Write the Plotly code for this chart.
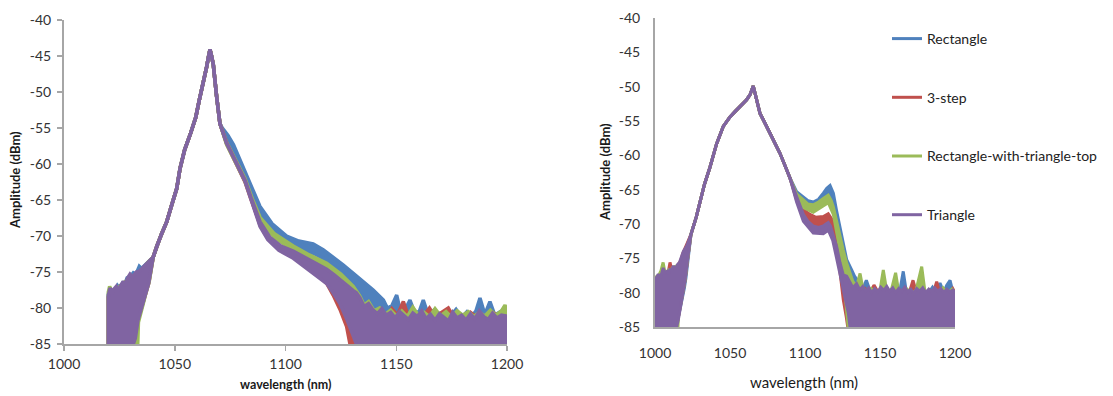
import plotly.graph_objects as go

# ---------------- series names / colours ----------------
SERIES = ["Rectangle", "3-step", "Rectangle-with-triangle-top", "Triangle"]
COLORS = ["#4F81BD", "#C0504D", "#9BBB59", "#8064A2"]
X_TICKS = [1000, 1050, 1100, 1150, 1200]
X_TICK_TEXT = ["1000", "1050", "1100", "1150", "1200"]
Y_TICKS = [-40, -45, -50, -55, -60, -65, -70, -75, -80, -85]
Y_TICK_TEXT = ["-40", "-45", "-50", "-55", "-60", "-65", "-70", "-75", "-80", "-85"]

# ================= LEFT PANEL (A) =================
# shared peak region
A_CORE_WL = [1040.3, 1042, 1044, 1046.4, 1048.8, 1050.9, 1052.4, 1054.5, 1057.2, 1059.5, 1061.1, 1063, 1064.4, 1065.3, 1065.9, 1066.6, 1067.4, 1068.9, 1070.4]
A_CORE_DB = [-72.9, -71.3, -69.7, -68.0, -65.5, -63.4, -60.6, -58.0, -55.7, -53.5, -51.1, -48.6, -46.5, -45.0, -44.1, -45.0, -46.2, -50.6, -54.4]

# upper envelopes: noisy left head
A_RECT_HEAD_WL = [1020, 1020, 1021, 1022, 1023, 1024.2, 1025.3, 1026.5, 1027.5, 1028.5, 1030, 1031.3, 1032.5, 1034, 1035, 1036.5, 1038]
A_RECT_HEAD_DB = [-85, -78.0, -78.5, -77.6, -77.8, -76.9, -77.3, -76.5, -76.6, -75.8, -75.6, -75.1, -75.3, -74.2, -74.5, -74.0, -73.5]
A_STEP_HEAD_WL = [1020, 1020, 1021, 1022, 1023.3, 1024.5, 1026, 1027.5, 1029, 1030.5, 1032, 1033.5, 1035, 1036.5, 1038]
A_STEP_HEAD_DB = [-85, -78.5, -78.2, -78.4, -77.8, -77.7, -77.2, -76.8, -76.2, -75.8, -75.4, -75.3, -74.8, -74.3, -73.7]
A_RWTT_HEAD_WL = [1020, 1020, 1020.6, 1021.8, 1023, 1024, 1025, 1026.3, 1027.3, 1028.8, 1030.3, 1031.5, 1033, 1034.5, 1036, 1037.5]
A_RWTT_HEAD_DB = [-85, -77.8, -77.0, -77.9, -77.5, -77.3, -77.0, -76.7, -76.4, -76.1, -75.5, -75.9, -75.2, -74.8, -74.5, -73.8]
A_TRI_HEAD_WL = [1020, 1020, 1020.8, 1021.6, 1022.5, 1023.6, 1024.5, 1025.5, 1026.8, 1027.7, 1028.6, 1029.8, 1031, 1032.6, 1034, 1035.6, 1037, 1038.6]
A_TRI_HEAD_DB = [-85, -78.3, -77.2, -78.0, -77.4, -77.0, -77.6, -76.9, -76.3, -76.9, -75.9, -75.3, -75.7, -75.0, -74.9, -74.4, -74.0, -73.4]

# upper envelopes: right side incl. noise floor
A_RECT_TAIL_WL = [1071.5, 1074, 1076.5, 1079.5, 1082.5, 1085.5, 1088.5, 1094, 1100.5, 1106, 1112.5, 1117, 1121.6, 1126, 1130.6, 1135, 1139.6, 1144.2,
                  1146, 1148, 1150.2, 1152, 1154, 1156.2, 1158.5, 1160.5, 1162.2, 1164.5, 1167, 1169.5, 1172, 1174.5, 1177, 1179.5, 1182, 1184.5, 1186, 1187.8, 1190, 1192.3, 1194.5, 1197, 1200]
A_RECT_TAIL_DB = [-55.0, -56.0, -57.3, -59.5, -61.4, -63.6, -65.9, -68.3, -70.0, -70.7, -71.1, -71.9, -72.9, -74.0, -75.2, -76.3, -77.5, -78.9,
                  -80.0, -79.7, -78.2, -80.6, -80.2, -78.9, -80.8, -80.4, -78.9, -81.0, -80.3, -81.2, -80.6, -81.1, -80.2, -81.3, -80.5, -81.0, -80.4, -78.6, -80.9, -79.1, -81.0, -80.5, -81.1]
A_STEP_TAIL_WL = [1073.4, 1077.9, 1081.7, 1084.5, 1088.5, 1093, 1098, 1103.5, 1110, 1115, 1118.6, 1122, 1125, 1128, 1131, 1133, 1135.5, 1138, 1140.5, 1143, 1145.5, 1148, 1150.5,
                  1153.2, 1155.5, 1158, 1160.5, 1163, 1165, 1167.5, 1170, 1173.5, 1176, 1178.5, 1181, 1183.5, 1186, 1188.5, 1191, 1193.5, 1196, 1198, 1200]
A_STEP_TAIL_DB = [-57.2, -60.1, -62.5, -65.0, -68.3, -70.5, -71.8, -72.5, -73.6, -74.5, -75.1, -75.9, -76.8, -77.5, -78.2, -79.0, -80.3, -79.9, -81.0, -80.4, -81.2, -80.1, -81.0,
                  -79.1, -81.2, -80.6, -81.3, -80.8, -80.0, -81.2, -80.7, -80.0, -81.3, -80.8, -81.4, -80.6, -81.2, -80.9, -81.3, -80.6, -81.1, -80.7, -81.2]
A_RWTT_TAIL_WL = [1073.4, 1077.9, 1081.7, 1085, 1088.5, 1095, 1103.5, 1110, 1118.6, 1125, 1130.6, 1133.5, 1135.5, 1137.5, 1140, 1142.5, 1145, 1147.5, 1150, 1152.5, 1155, 1157.5, 1160,
                  1162.5, 1165, 1167.5, 1170, 1172.5, 1175, 1177.5, 1180, 1182.5, 1185, 1187.5, 1190, 1192.5, 1195, 1197.5, 1199.1, 1200]
A_RWTT_TAIL_DB = [-57.0, -59.6, -62.0, -64.8, -67.4, -69.7, -71.4, -72.5, -73.8, -75.3, -77.0, -78.3, -79.6, -79.1, -80.4, -80.0, -80.9, -80.3, -81.1, -80.4, -81.2, -79.9, -81.0,
                  -80.6, -81.2, -80.1, -81.1, -80.5, -81.3, -80.4, -81.0, -80.5, -81.2, -80.6, -81.1, -80.3, -81.0, -80.4, -79.6, -80.3]
A_TRI_TAIL_WL = [1073.4, 1077.9, 1081.7, 1084.5, 1088.5, 1093, 1098, 1103.5, 1110, 1115, 1118.6, 1122, 1125, 1128, 1130.6, 1132, 1133.6, 1135.5, 1137.5, 1139.6, 1141.5, 1143.5,
                 1145.5, 1147.5, 1149.5, 1151.5, 1153.5, 1155.5, 1157.5, 1159.5, 1161.5, 1163.5, 1165.5, 1167.5, 1169.5, 1171.5, 1173.5, 1175.5, 1177.5, 1179.5, 1181.5,
                 1183.5, 1185.5, 1187.5, 1189.5, 1191.5, 1193.5, 1195.5, 1197.5, 1199.5, 1200]
A_TRI_TAIL_DB = [-57.1, -59.9, -62.2, -64.7, -68.0, -70.2, -71.4, -72.1, -73.2, -74.0, -74.6, -75.4, -76.2, -77.0, -77.6, -77.9, -78.6, -79.8, -79.4, -80.3, -80.8, -80.1,
                 -81.0, -80.6, -81.4, -80.5, -81.1, -81.6, -80.7, -81.2, -80.4, -81.5, -80.9, -81.7, -80.8, -81.3, -81.8, -80.6, -81.4, -81.0, -81.7,
                 -80.8, -81.5, -80.4, -81.2, -81.6, -80.7, -81.4, -81.0, -81.1, -81.2]

# lower envelopes: left edge of the noisy head
A_RECT_LOWL_WL = [1020, 1031, 1032, 1033.2, 1034.8, 1036.4, 1038]
A_RECT_LOWL_DB = [-85, -85, -84.0, -81.5, -79.8, -78.2, -76.5]
A_STEP_LOWL_WL = [1020, 1032, 1032.6, 1033.6, 1035.2, 1036.8, 1038.3]
A_STEP_LOWL_DB = [-85, -85, -83.5, -81.5, -79.8, -78.1, -76.5]
A_RWTT_LOWL_WL = [1020, 1033.3, 1033.6, 1034.6, 1035.8, 1037, 1038.5]
A_RWTT_LOWL_DB = [-85, -85, -82.0, -81.0, -79.4, -77.9, -76.3]
A_TRI_LOWL_WL = [1020, 1031.3, 1032.2, 1033.4, 1035, 1036.6, 1038.2]
A_TRI_LOWL_DB = [-85, -85, -84.2, -81.7, -80.0, -78.3, -76.6]

# lower envelopes: right side
A_RECT_LOWR_WL = [1073.4, 1077, 1080.5, 1084, 1088.5, 1094, 1100.5, 1106, 1112.5, 1117, 1121.6, 1126, 1130.6, 1134, 1136, 1200]
A_RECT_LOWR_DB = [-56.9, -58.8, -61.0, -63.6, -67.0, -69.5, -71.3, -72.0, -72.4, -73.1, -74.1, -75.3, -76.8, -80.0, -85, -85]
A_STEP_LOWR_WL = [1073.4, 1077.9, 1081.7, 1084.5, 1088.5, 1092, 1097, 1103.5, 1110, 1115, 1118.6, 1121.5, 1124.6, 1127.6, 1129.1, 1200]
A_STEP_LOWR_DB = [-57.0, -59.8, -62.2, -64.8, -68.5, -70.3, -71.8, -72.9, -74.4, -75.6, -76.6, -78.2, -80.2, -82.6, -85, -85]
A_RWTT_LOWR_WL = [1073.4, 1077.9, 1081.7, 1085, 1088.5, 1095, 1103.5, 1110, 1118.6, 1125, 1128, 1131, 1133, 1200]
A_RWTT_LOWR_DB = [-57.3, -60.0, -62.4, -65.2, -67.9, -70.2, -72.0, -73.1, -74.5, -76.5, -78.2, -81.0, -85, -85]
A_TRI_LOWR_WL = [1073.4, 1077.9, 1081.7, 1084.5, 1088.5, 1092, 1097, 1103.5, 1110, 1115, 1118.6, 1121.5, 1124.6, 1127.6, 1130, 1132, 1200]
A_TRI_LOWR_DB = [-57.1, -59.9, -62.4, -65.0, -68.7, -70.5, -72.0, -73.1, -74.6, -75.8, -76.6, -77.9, -79.4, -81.5, -83.5, -85, -85]

# ================= RIGHT PANEL (B) =================
B_CORE_WL = [1024, 1027.5, 1030, 1033, 1036.7, 1041.1, 1045.5, 1050, 1053.5, 1056.7, 1059, 1061.1, 1063.3, 1064.5, 1065.5, 1066.5, 1067.8, 1070, 1073.5, 1076.7, 1080, 1083.3, 1086.5, 1090]
B_CORE_DB = [-71.5, -69.0, -66.8, -64.2, -61.7, -58.3, -55.8, -54.4, -53.6, -52.9, -52.5, -51.9, -51.2, -50.6, -49.9, -50.8, -51.9, -53.9, -55.4, -56.8, -58.2, -59.7, -61.4, -63.3]

B_RECT_HEAD_WL = [1000, 1000, 1001.5, 1003, 1004.5, 1006, 1007.5, 1009, 1010.5, 1012, 1013.5, 1015, 1016.5, 1018, 1019.5, 1021, 1022.5]
B_RECT_HEAD_DB = [-85, -79.0, -78.4, -78.2, -77.8, -77.9, -77.5, -77.6, -77.2, -76.9, -76.8, -76.4, -75.9, -75.0, -74.2, -73.4, -72.5]
B_STEP_HEAD_WL = [1000, 1000, 1001, 1002.4, 1003.8, 1005, 1006.3, 1007.6, 1009, 1010, 1011.2, 1012.5, 1014, 1015.5, 1017, 1018.5, 1020, 1021.5]
B_STEP_HEAD_DB = [-85, -78.0, -77.9, -77.5, -77.6, -77.3, -76.9, -77.2, -76.8, -75.6, -76.7, -76.4, -76.5, -75.9, -75.4, -74.3, -73.5, -72.8]
B_RWTT_HEAD_WL = [1000, 1000, 1001.2, 1002.5, 1004, 1005.4, 1006.5, 1007.7, 1009, 1010.3, 1011.5, 1012.8, 1014, 1015.5, 1016.8, 1018, 1019.3, 1020.5, 1021.7, 1022.8]
B_RWTT_HEAD_DB = [-85, -78.0, -77.6, -77.5, -76.8, -75.6, -76.9, -77.0, -76.7, -77.1, -76.4, -76.3, -76.2, -76.0, -75.8, -75.2, -74.6, -73.9, -73.3, -72.6]
B_TRI_HEAD_WL = [1000, 1000, 1001, 1002.2, 1003.5, 1004.5, 1005.5, 1006.5, 1008, 1009, 1010, 1011, 1012.2, 1013.5, 1015, 1016.3, 1017.5, 1018.9, 1020, 1021.1, 1022.5]
B_TRI_HEAD_DB = [-85, -78.4, -77.8, -77.3, -77.9, -77.2, -76.4, -77.1, -76.9, -77.3, -76.5, -76.8, -76.1, -76.6, -75.9, -75.6, -74.8, -74.0, -73.6, -73.2, -72.4]

B_RECT_TAIL_WL = [1094.4, 1098.9, 1102, 1105.5, 1109, 1112.2, 1114.5, 1116.7, 1118.9, 1121, 1123.3, 1125.5, 1127.8, 1131.1, 1133, 1136, 1138.5, 1140.9, 1143.5, 1146, 1149,
                  1152, 1155, 1158, 1161, 1163.5, 1165.5, 1167.5, 1170.5, 1173.5, 1176.5, 1179.5, 1182.5, 1185, 1187.5, 1190, 1192.5, 1194.5, 1196.7, 1198.5, 1200]
B_RECT_TAIL_DB = [-65.3, -66.0, -66.6, -66.8, -66.4, -65.5, -64.8, -64.4, -65.5, -68.0, -70.4, -73.0, -75.2, -76.7, -77.6, -78.5, -79.4, -78.2, -79.8, -79.6, -80.1,
                  -79.7, -80.0, -79.5, -80.2, -79.4, -76.9, -79.8, -80.1, -79.6, -80.2, -79.7, -80.0, -79.2, -80.1, -78.6, -79.9, -78.9, -78.2, -79.8, -80.1]
B_STEP_TAIL_WL = [1094.4, 1098.9, 1103.3, 1107, 1112.2, 1115.5, 1118.9, 1121, 1122.2, 1124, 1126, 1128.5, 1131, 1134, 1137, 1140, 1143, 1146, 1149, 1152, 1155, 1158,
                  1161, 1164, 1167, 1169.5, 1172, 1174.5, 1177, 1180, 1183, 1185.5, 1187.8, 1190, 1193, 1196, 1198.5, 1200]
B_STEP_TAIL_DB = [-65.8, -67.9, -68.6, -69.0, -68.9, -68.5, -69.6, -71.6, -72.8, -75.2, -77.0, -78.2, -78.9, -79.5, -80.0, -79.4, -80.1, -78.9, -80.0, -80.3, -79.6, -80.1,
                  -79.8, -80.3, -79.7, -80.0, -78.2, -80.1, -79.8, -80.3, -79.6, -80.0, -78.4, -80.1, -79.7, -80.2, -79.4, -80.0]
B_RWTT_TAIL_WL = [1094.4, 1098.9, 1102, 1105.5, 1109, 1112.2, 1115.5, 1117.5, 1118.9, 1121, 1123.3, 1125.5, 1127.8, 1130, 1132, 1134.5, 1136.7, 1138.5, 1141, 1144, 1147,
                  1150, 1152.2, 1154.5, 1157, 1160.4, 1162.5, 1165, 1168, 1171, 1174, 1177.8, 1180, 1183, 1186, 1189, 1192, 1195, 1198, 1200]
B_RWTT_TAIL_DB = [-65.6, -66.5, -67.1, -67.2, -66.8, -66.3, -65.8, -66.6, -67.5, -69.5, -71.8, -73.8, -75.7, -77.3, -78.4, -79.0, -77.2, -79.3, -79.9, -79.4, -80.0,
                  -79.6, -76.7, -79.8, -80.1, -77.1, -79.9, -80.2, -79.5, -80.1, -79.7, -76.2, -79.9, -80.2, -79.6, -80.0, -79.3, -80.1, -79.5, -80.0]
B_TRI_TAIL_WL = [1094.4, 1098.9, 1102, 1105.5, 1109, 1112.2, 1114, 1115.5, 1117, 1118.5, 1121.1, 1123.3, 1125.5, 1127.8, 1130, 1132, 1134.4, 1136.5, 1138.5, 1140.5, 1142.5,
                 1144.5, 1146.5, 1148.5, 1150.5, 1152.5, 1154.5, 1156.5, 1158.5, 1160.5, 1162.5, 1164.5, 1166.5, 1168.5, 1170.5, 1172.5, 1174.5, 1176.5, 1178.5,
                 1180.5, 1182.5, 1184.5, 1186.5, 1188.5, 1190.5, 1192.5, 1194.5, 1196.5, 1198.5, 1200]
B_TRI_TAIL_DB = [-66.0, -68.6, -69.6, -70.3, -70.5, -70.3, -70.0, -69.8, -70.3, -71.3, -73.3, -75.6, -77.4, -77.6, -78.6, -79.3, -78.7, -79.6, -79.1, -79.8, -79.3,
                 -80.0, -79.4, -79.9, -79.2, -79.7, -79.1, -79.8, -79.3, -80.0, -79.4, -79.8, -79.2, -79.9, -79.5, -80.1, -79.4, -79.8, -79.3,
                 -80.0, -79.5, -79.9, -79.3, -79.8, -79.4, -80.0, -79.5, -79.9, -79.6, -80.0]

B_RECT_LOWL_WL = [1000, 1014, 1015, 1016.5, 1018, 1019.6, 1020.6, 1021.8, 1022.9]
B_RECT_LOWL_DB = [-85, -85, -84.2, -82.7, -81.2, -79.3, -77.9, -75.3, -73.2]
B_STEP_LOWL_WL = [1000, 1014.2, 1015.2, 1016.6, 1017.8, 1019, 1020.1, 1021.5, 1022.8]
B_STEP_LOWL_DB = [-85, -85, -84.0, -82.4, -81.0, -79.5, -78.1, -75.5, -73.3]
B_RWTT_LOWL_WL = [1000, 1015.3, 1015.6, 1016.5, 1017.6, 1019, 1020, 1021.4, 1022.7]
B_RWTT_LOWL_DB = [-85, -85, -83.5, -82.4, -81.0, -79.4, -78.2, -75.6, -73.4]
B_TRI_LOWL_WL = [1000, 1014.4, 1015.5, 1016.7, 1017.8, 1019, 1020, 1021.5, 1022.8]
B_TRI_LOWL_DB = [-85, -85, -84.0, -82.5, -81.1, -79.5, -78.2, -75.5, -73.3]

B_RECT_LOWR_WL = [1094.4, 1098.9, 1105.5, 1112.2, 1116.7, 1118.9, 1121, 1123.3, 1125.5, 1127.8, 1130, 1131.5, 1200]
B_RECT_LOWR_DB = [-65.9, -67.2, -68.0, -66.7, -65.6, -66.7, -69.2, -71.8, -74.5, -77.0, -80.0, -85, -85]
B_STEP_LOWR_WL = [1094.4, 1098.9, 1105, 1112, 1115.5, 1119, 1122, 1124, 1125.5, 1127.5, 1128.5, 1200]
B_STEP_LOWR_DB = [-66.5, -69.0, -70.2, -70.3, -70.0, -71.2, -74.5, -78.3, -81.0, -83.5, -85, -85]
B_RWTT_LOWR_WL = [1094.4, 1098.9, 1105.5, 1112.2, 1115.5, 1118.9, 1121, 1123.3, 1125.5, 1127, 1128.8, 1200]
B_RWTT_LOWR_DB = [-66.4, -67.6, -68.3, -67.4, -66.9, -68.6, -71.0, -73.8, -77.5, -81.0, -85, -85]
B_TRI_LOWR_WL = [1094.4, 1098.9, 1105.5, 1112.2, 1115.5, 1118.5, 1121.1, 1124.4, 1126.7, 1128.9, 1130, 1200]
B_TRI_LOWR_DB = [-66.8, -69.6, -71.3, -71.4, -70.9, -72.4, -75.0, -78.2, -80.6, -83.0, -85, -85]

# ---------------- assemble ----------------
A_UP = [
    (A_RECT_HEAD_WL + A_CORE_WL + A_RECT_TAIL_WL, A_RECT_HEAD_DB + A_CORE_DB + A_RECT_TAIL_DB),
    (A_STEP_HEAD_WL + A_CORE_WL + A_STEP_TAIL_WL, A_STEP_HEAD_DB + A_CORE_DB + A_STEP_TAIL_DB),
    (A_RWTT_HEAD_WL + A_CORE_WL + A_RWTT_TAIL_WL, A_RWTT_HEAD_DB + A_CORE_DB + A_RWTT_TAIL_DB),
    (A_TRI_HEAD_WL + A_CORE_WL + A_TRI_TAIL_WL, A_TRI_HEAD_DB + A_CORE_DB + A_TRI_TAIL_DB),
]
A_LO = [
    (A_RECT_LOWL_WL + A_CORE_WL + A_RECT_LOWR_WL, A_RECT_LOWL_DB + A_CORE_DB + A_RECT_LOWR_DB),
    (A_STEP_LOWL_WL + A_CORE_WL + A_STEP_LOWR_WL, A_STEP_LOWL_DB + A_CORE_DB + A_STEP_LOWR_DB),
    (A_RWTT_LOWL_WL + A_CORE_WL + A_RWTT_LOWR_WL, A_RWTT_LOWL_DB + A_CORE_DB + A_RWTT_LOWR_DB),
    (A_TRI_LOWL_WL + A_CORE_WL + A_TRI_LOWR_WL, A_TRI_LOWL_DB + A_CORE_DB + A_TRI_LOWR_DB),
]
B_UP = [
    (B_RECT_HEAD_WL + B_CORE_WL + B_RECT_TAIL_WL, B_RECT_HEAD_DB + B_CORE_DB + B_RECT_TAIL_DB),
    (B_STEP_HEAD_WL + B_CORE_WL + B_STEP_TAIL_WL, B_STEP_HEAD_DB + B_CORE_DB + B_STEP_TAIL_DB),
    (B_RWTT_HEAD_WL + B_CORE_WL + B_RWTT_TAIL_WL, B_RWTT_HEAD_DB + B_CORE_DB + B_RWTT_TAIL_DB),
    (B_TRI_HEAD_WL + B_CORE_WL + B_TRI_TAIL_WL, B_TRI_HEAD_DB + B_CORE_DB + B_TRI_TAIL_DB),
]
B_LO = [
    (B_RECT_LOWL_WL + B_CORE_WL + B_RECT_LOWR_WL, B_RECT_LOWL_DB + B_CORE_DB + B_RECT_LOWR_DB),
    (B_STEP_LOWL_WL + B_CORE_WL + B_STEP_LOWR_WL, B_STEP_LOWL_DB + B_CORE_DB + B_STEP_LOWR_DB),
    (B_RWTT_LOWL_WL + B_CORE_WL + B_RWTT_LOWR_WL, B_RWTT_LOWL_DB + B_CORE_DB + B_RWTT_LOWR_DB),
    (B_TRI_LOWL_WL + B_CORE_WL + B_TRI_LOWR_WL, B_TRI_LOWL_DB + B_CORE_DB + B_TRI_LOWR_DB),
]

fig = go.Figure()
for panel, (ups, los, xa, ya, lw) in enumerate([(A_UP, A_LO, "x", "y", 3.5), (B_UP, B_LO, "x2", "y2", 3)]):
    for i, name in enumerate(SERIES):
        ux, uy = ups[i]
        lx, ly = los[i]
        fig.add_trace(go.Scatter(x=ux, y=uy, mode="lines", name=name, xaxis=xa, yaxis=ya,
                                 line=dict(color=COLORS[i], width=lw), legendgroup=name,
                                 showlegend=(panel == 1), hoverinfo="skip"))
        fig.add_trace(go.Scatter(x=lx, y=ly, mode="lines", name=name, xaxis=xa, yaxis=ya,
                                 line=dict(color=COLORS[i], width=lw), fill="tonexty",
                                 fillcolor=COLORS[i], legendgroup=name, showlegend=False,
                                 hoverinfo="skip"))

W, H = 1113, 396
FONT = "Lato, 'Open Sans', sans-serif"
TICKC = "#333333"
AXC = "#a6a6a6"

def xdom(a, b):
    return [a / W, b / W]

def ydom(top, bot):
    return [(H - bot) / H, (H - top) / H]

common_x = dict(range=[1000, 1200], tickvals=X_TICKS, ticktext=X_TICK_TEXT, showgrid=False, zeroline=False,
                showline=True, linecolor=AXC, linewidth=2, layer="below traces", automargin=False,
                tickfont=dict(family=FONT, size=14, color=TICKC))
common_y = dict(range=[-85, -40], tickvals=Y_TICKS, ticktext=Y_TICK_TEXT, showgrid=False, zeroline=False,
                showline=True, linecolor=AXC, linewidth=2, layer="below traces", automargin=False,
                tickfont=dict(family=FONT, size=14, color=TICKC))

fig.update_layout(
    width=W, height=H, margin=dict(l=0, r=0, t=0, b=0, autoexpand=False),
    paper_bgcolor="white", plot_bgcolor="white",
    font=dict(family=FONT, color="#222222"),
    xaxis=dict(common_x, domain=xdom(64, 507), anchor="y", ticks="outside", ticklen=5,
               tickcolor=AXC, tickwidth=1.5, ticklabelstandoff=1),
    yaxis=dict(common_y, domain=ydom(20, 344), anchor="x", ticks="outside", ticklen=5,
               tickcolor=AXC, tickwidth=1.5, ticklabelstandoff=3),
    xaxis2=dict(common_x, domain=xdom(655, 955), anchor="y2", ticks="", ticklabelstandoff=12),
    yaxis2=dict(common_y, domain=ydom(18, 327), anchor="x2", ticks="", ticklabelstandoff=10),
    showlegend=True,
    legend=dict(x=887 / W, y=1 - 23 / H, xanchor="left", yanchor="top", traceorder="grouped",
                tracegroupgap=37.5, bgcolor="rgba(0,0,0,0)",
                font=dict(family=FONT, size=14, color="#222222")),
    hovermode=False,
)

ann = [
    dict(text="<b>Amplitude (dBm)</b>", x=15 / W, y=1 - 180 / H, textangle=-90, size=13),
    dict(text="<b>wavelength (nm)</b>", x=286 / W, y=1 - 384 / H, textangle=0, size=12.5),
    dict(text="<b>Amplitude (dBm)</b>", x=605 / W, y=1 - 172 / H, textangle=-90, size=13),
    dict(text="wavelength (nm)", x=804 / W, y=1 - 382 / H, textangle=0, size=15),
]
for a in ann:
    fig.add_annotation(text=a["text"], x=a["x"], y=a["y"], xref="paper", yref="paper",
                       xanchor="center", yanchor="middle", showarrow=False, textangle=a["textangle"],
                       font=dict(family=FONT, size=a["size"], color="#1a1a1a"))

fig.write_html("out.html", config={"displayModeBar": False, "staticPlot": True},
               post_script="document.body.style.margin='0';document.body.style.overflow='hidden';")
